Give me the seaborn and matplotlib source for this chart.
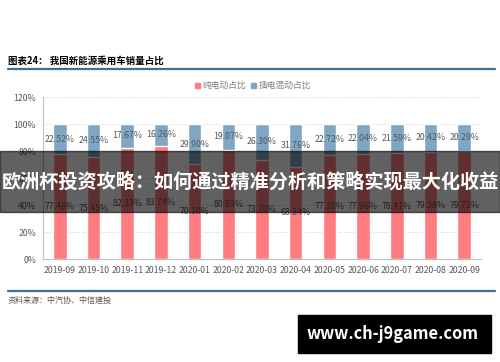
import matplotlib
matplotlib.use("Agg")
import matplotlib.pyplot as plt
import seaborn as sns
import pandas as pd
from matplotlib.patches import Rectangle
from matplotlib.lines import Line2D

months = ["2019-09", "2019-10", "2019-11", "2019-12", "2020-01", "2020-02", "2020-03",
          "2020-04", "2020-05", "2020-06", "2020-07", "2020-08", "2020-09"]
ev_share = [77.48, 75.45, 82.33, 83.74, 70.10, 80.93, 73.70, 68.24, 77.28, 77.96, 78.41, 79.58, 79.71]
phev_share = [22.52, 24.55, 17.67, 16.26, 29.90, 19.07, 26.30, 31.76, 22.72, 22.04, 21.59, 20.42, 20.29]
y_ticks = [0, 20, 40, 60, 80, 100, 120]

sns.set_theme(style="white")
plt.rcParams['font.family'] = ['Noto Sans CJK SC', 'DejaVu Sans']

RED = "#FF7C80"
BLUE = "#7FA7C4"
GRAY = "#595959"

df = pd.DataFrame({"month": months, "ev": ev_share, "phev": phev_share})
df["total"] = df["ev"] + df["phev"]

fig = plt.figure(figsize=(5.0, 3.62), dpi=100)
ax = fig.add_axes([0.086, 0.2845, 0.876, 0.4475])

sns.barplot(data=df, x="month", y="total", color=BLUE, width=0.4, ax=ax,
            saturation=1, zorder=3)
sns.barplot(data=df, x="month", y="ev", color=RED, width=0.4, ax=ax,
            saturation=1, zorder=3)

for i, (e, p) in enumerate(zip(ev_share, phev_share)):
    ax.text(i, e / 2, f"{e:.2f}%", ha="center", va="center", fontsize=6.3, color=GRAY, zorder=4)
    ax.text(i, e + p / 2, f"{p:.2f}%", ha="center", va="center", fontsize=6.3, color=GRAY, zorder=4)

ax.set_ylim(0, 120)
ax.set_xlim(-0.5, len(months) - 0.5)
ax.set_yticks(y_ticks)
ax.set_yticklabels([f"{v}%" for v in y_ticks], fontsize=6.3, color=GRAY)
ax.tick_params(axis="x", labelsize=6.3, colors=GRAY, length=0, pad=5)
ax.tick_params(axis="y", length=0, pad=5)
ax.set_xlabel("")
ax.set_ylabel("")
for v in y_ticks[1:]:
    ax.axhline(v, color="#D9D9D9", lw=0.6, ls=(0, (2, 1.5)), zorder=1)
for s in ["top", "right"]:
    ax.spines[s].set_visible(False)
ax.spines["left"].set_color("#BFBFBF")
ax.spines["bottom"].set_color("#BFBFBF")
ax.spines["left"].set_linewidth(0.8)
ax.spines["bottom"].set_linewidth(0.8)

# legend
fig.patches.append(Rectangle((195 / 500, 1 - 88 / 362), 5 / 500, 5 / 362,
                             transform=fig.transFigure, color=RED, figure=fig))
fig.text(203 / 500, 1 - 85.5 / 362, "纯电动占比", fontsize=6.3, color="#7F7F7F", va="center")
fig.patches.append(Rectangle((251 / 500, 1 - 88 / 362), 5 / 500, 5 / 362,
                             transform=fig.transFigure, color=BLUE, figure=fig))
fig.text(259 / 500, 1 - 85.5 / 362, "插电混动占比", fontsize=6.3, color="#7F7F7F", va="center")

# title and rules
fig.text(8 / 500, 1 - 60.5 / 362, "图表24： 我国新能源乘用车销量占比", fontsize=6.8,
         fontweight="bold", color="black", va="center")
fig.lines.append(Line2D([8 / 500, 495 / 500], [1 - 69 / 362, 1 - 69 / 362],
                        transform=fig.transFigure, color="#3F6E96", lw=1.6))
fig.lines.append(Line2D([8 / 500, 495 / 500], [1 - 291 / 362, 1 - 291 / 362],
                        transform=fig.transFigure, color="#3F6E96", lw=1.6))
fig.text(8 / 500, 1 - 300 / 362, "资料来源：中汽协、中信建投", fontsize=5.8,
         style="italic", color="#595959", va="center")

# banner overlay
fig.patches.append(Rectangle((0, 1 - 212 / 362), 1, 61 / 362, transform=fig.transFigure,
                             color="black", alpha=0.62, zorder=10, figure=fig))
fig.text(0.5, 1 - 182 / 362, "欧洲杯投资攻略：如何通过精准分析和策略实现最大化收益",
         fontsize=13.8, fontweight="bold", color="white", ha="center", va="center", zorder=11)

# watermark box
fig.patches.append(Rectangle((298 / 500, 1 - 353 / 362), 193 / 500, 38 / 362,
                             transform=fig.transFigure, color="black", zorder=10, figure=fig))
fig.text(393 / 500, 1 - 334 / 362, "www.ch-j9game.com", fontsize=11.8, fontweight="bold",
         color="white", ha="center", va="center", zorder=11)

fig.savefig("out.png", dpi=100)
